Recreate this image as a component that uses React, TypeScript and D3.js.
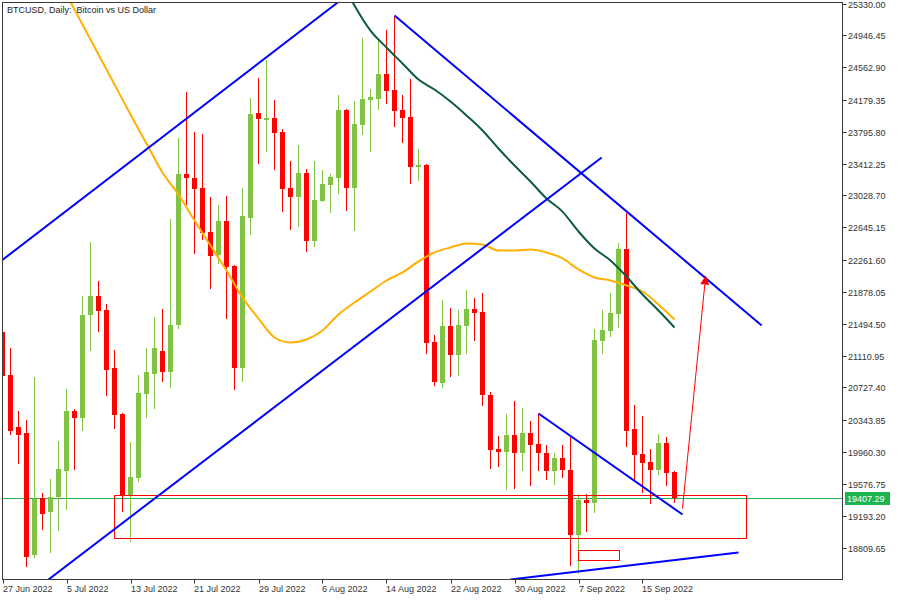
import React from "react";
import * as d3 from "d3";

const title = "BTCUSD, Daily:  Bitcoin vs US Dollar";

// daily candles, first bar = 27 Jun 2022
const opens = [21387, 20883, 20248, 20188, 18714, 19397, 19241, 19409, 19721, 20440, 20356, 21602, 21830, 21662, 20967, 20404, 19433, 19637, 20644, 20895, 21159, 20919, 21471, 23292, 23244, 23113, 22597, 22310, 22729, 22178, 20967, 22765, 24012, 23934, 23952, 23784, 23113, 23005, 23304, 22489, 22957, 23149, 23244, 24048, 23113, 23868, 24179, 24191, 24479, 24299, 24048, 23964, 23376, 23400, 21267, 20787, 21459, 21111, 21459, 21674, 21638, 20632, 19996, 19960, 20164, 19948, 20188, 20056, 19948, 19721, 19888, 19733, 18954, 19373, 19349, 21279, 21399, 21614, 22393, 20224, 19936, 19840, 19733, 20068, 19709];
const highs = [21411, 21195, 20440, 20332, 20859, 19457, 19625, 20092, 20715, 20464, 21830, 22477, 21998, 21734, 21171, 20416, 20080, 20883, 21195, 21578, 21674, 22753, 23712, 24275, 23784, 23760, 23005, 22909, 23017, 22190, 23113, 24203, 24443, 24647, 24179, 23820, 23448, 23628, 23352, 23448, 23340, 23292, 24228, 24060, 24167, 24911, 24311, 24875, 25018, 25186, 24228, 24431, 23592, 23412, 21351, 21782, 21686, 21662, 21902, 21806, 21866, 20668, 20152, 20404, 20560, 20476, 20320, 20404, 20044, 19948, 20044, 20140, 19445, 19445, 21423, 21662, 21866, 22465, 22813, 20512, 20380, 19996, 20176, 20140, 19721];
const lows = [20835, 20164, 19816, 18570, 18678, 19025, 18738, 19013, 19265, 19733, 20212, 21159, 21387, 20620, 20224, 19241, 18870, 19589, 20356, 20464, 20799, 20727, 21423, 22909, 22322, 22501, 21914, 22202, 21543, 20703, 20799, 22561, 23412, 23556, 23340, 22825, 22621, 22657, 22357, 22417, 22945, 22813, 23041, 22837, 22609, 23748, 23556, 24048, 24120, 23844, 23652, 23161, 23208, 21123, 20751, 20727, 20859, 20871, 21123, 21279, 20500, 19745, 19780, 19493, 19505, 19721, 19541, 19721, 19613, 19553, 19637, 18582, 18498, 18990, 19229, 21123, 21327, 21435, 20020, 19613, 19457, 19337, 19673, 19541, 19349];
const closes = [20871, 20212, 20164, 18690, 19385, 19217, 19409, 19745, 20440, 20356, 21602, 21830, 21650, 20943, 20392, 19433, 19649, 20656, 20919, 21195, 20919, 21471, 23292, 23244, 23101, 22585, 22298, 22729, 22166, 20967, 22777, 24000, 23940, 23952, 23772, 23101, 23005, 23304, 22489, 22969, 23161, 23256, 24048, 23113, 23880, 24191, 24215, 24479, 24287, 24036, 23952, 23376, 23400, 21255, 20799, 21459, 21111, 21471, 21674, 21626, 20632, 19984, 19960, 20164, 19948, 20188, 20044, 19948, 19721, 19888, 19733, 18954, 19373, 19349, 21291, 21411, 21626, 22393, 20212, 19924, 19828, 19733, 20068, 19697, 19407.29];

const lastPrice = 19407.29;

const priceTicks = [25330.0, 24946.45, 24562.9, 24179.35, 23795.8, 23412.25, 23028.7, 22645.15, 22261.6, 21878.05, 21494.5, 21110.95, 20727.4, 20343.85, 19960.3, 19576.75, 19193.2, 18809.65];
const dateTickBars = [0, 8, 16, 24, 32, 40, 48, 56, 64, 72, 80];
const dateTickLabels = ["27 Jun 2022", "5 Jul 2022", "13 Jul 2022", "21 Jul 2022", "29 Jul 2022", "6 Aug 2022", "14 Aug 2022", "22 Aug 2022", "30 Aug 2022", "7 Sep 2022", "15 Sep 2022"];

const slowMaBars = [8, 10, 12, 14, 16, 18, 20, 22, 24, 26, 28, 30, 32, 34, 36, 38, 40, 42, 44, 46, 48, 50, 52, 54, 56, 58, 60, 62, 64, 66, 68, 70, 72, 74, 76, 78, 80, 82, 84];
const slowMaValues = [25438, 25078, 24719, 24359, 23999, 23652, 23304, 23041, 22729, 22429, 22130, 21806, 21554, 21327, 21267, 21303, 21411, 21602, 21746, 21878, 22010, 22106, 22238, 22346, 22406, 22453, 22441, 22369, 22369, 22381, 22346, 22274, 22142, 22046, 22010, 21950, 21878, 21722, 21542];
const fastMaBars = [43, 44, 46, 48, 50, 52, 54, 56, 58, 60, 62, 64, 66, 68, 70, 72, 74, 76, 78, 80, 82, 84];
const fastMaValues = [25486, 25306, 25006, 24803, 24611, 24419, 24299, 24155, 23988, 23808, 23592, 23388, 23197, 22993, 22836, 22597, 22393, 22250, 22058, 21842, 21650, 21447];

// drawn objects: [bar1, price1, bar2, price2]
const trendLines = [
  [-0.1, 22250, 41.9, 25342],
  [5.75, 18426, 74.9, 23484],
  [49, 25186, 94.9, 21471],
  [67, 20416, 85, 19205],
  [63.5, 18426, 92, 18750],
];
const zones = [
  [13.9, 19433, 92.9, 18918],
  [71.9, 18774, 77, 18654],
];
const arrowLine = [85, 19277, 87.9, 22070];

const W = 900;
const H = 600;
const left = 2.5;
const top = 2.5;
const right = 842.5;
const bottom = 579.5;
const font = "'Liberation Sans', Arial, sans-serif";

export default function App() {
  const x = d3.scaleLinear().domain([0, 105]).range([2.5, 842.5]);
  const y = d3.scaleLinear().domain([18809.65, 25330]).range([547.5, 3.5]);

  const bull = "#80c342";
  const bear = "#ff0000";

  const slowLine = d3
    .line<number>()
    .x((_, i) => x(slowMaBars[i]))
    .y((d) => y(d))
    .curve(d3.curveMonotoneX)(slowMaValues);
  const fastLine = d3
    .line<number>()
    .x((_, i) => x(fastMaBars[i]))
    .y((d) => y(d))
    .curve(d3.curveMonotoneX)(fastMaValues);

  const ax1 = x(arrowLine[0]);
  const ay1 = y(arrowLine[1]);
  const ax2 = x(arrowLine[2]);
  const ay2 = y(arrowLine[3]);
  const ang = Math.atan2(ay2 - ay1, ax2 - ax1);
  const head = 9;
  const hw = 4.5;
  const bx = ax2 - head * Math.cos(ang);
  const by = ay2 - head * Math.sin(ang);
  const headPath = `M${ax2},${ay2}L${bx + hw * Math.sin(ang)},${by - hw * Math.cos(ang)}L${bx - hw * Math.sin(ang)},${by + hw * Math.cos(ang)}Z`;

  return (
    <svg
      width={W}
      height={H}
      style={{ position: "absolute", left: 0, top: 0, background: "#fff" }}
      fontFamily={font}
    >
      <defs>
        <clipPath id="plot">
          <rect x={left} y={top} width={right - left} height={bottom - top} />
        </clipPath>
      </defs>
      <rect width={W} height={H} fill="#fff" />

      <g clipPath="url(#plot)">
        <line
          x1={left}
          x2={right}
          y1={Math.round(y(lastPrice)) + 0.5}
          y2={Math.round(y(lastPrice)) + 0.5}
          stroke="#1db34e"
          strokeWidth={1}
        />
        <g shapeRendering="crispEdges">
          {opens.map((o, i) => {
            const c = closes[i];
            const up = c >= o;
            const col = up ? bull : bear;
            const cx = x(i);
            const yt = y(Math.max(o, c));
            const yb = y(Math.min(o, c));
            return (
              <g key={i}>
                <line x1={cx} x2={cx} y1={y(highs[i])} y2={y(lows[i])} stroke={col} strokeWidth={1} />
                <rect x={cx - 2.5} y={yt} width={5} height={Math.max(1.5, yb - yt)} fill={col} />
              </g>
            );
          })}
        </g>
        <path d={slowLine || ""} fill="none" stroke="#ffb000" strokeWidth={2} />
        <path d={fastLine || ""} fill="none" stroke="#0d5a47" strokeWidth={2} />
        {zones.map((z, i) => (
          <rect
            key={i}
            x={Math.round(x(z[0])) + 0.5}
            y={Math.round(y(z[1])) + 0.5}
            width={Math.round(x(z[2]) - x(z[0]))}
            height={Math.round(y(z[3]) - y(z[1]))}
            fill="none"
            stroke="#ff0000"
            strokeWidth={1}
          />
        ))}
        {trendLines.map((t, i) => (
          <line
            key={i}
            x1={x(t[0])}
            y1={y(t[1])}
            x2={x(t[2])}
            y2={y(t[3])}
            stroke="#0000ff"
            strokeWidth={2}
          />
        ))}
        <line x1={ax1} y1={ay1} x2={bx} y2={by} stroke="#ff0000" strokeWidth={1} />
        <path d={headPath} fill="#ff0000" />
      </g>

      <rect x={left} y={top} width={right - left} height={bottom - top} fill="none" stroke="#3a3a3a" strokeWidth={1} />

      <text x={7} y={13} fontSize={9} fill="#222" xmlSpace="preserve" style={{ whiteSpace: "pre" }}>
        {title}
      </text>

      {priceTicks.map((p) => {
        const ty = Math.round(y(p)) + 0.5;
        return (
          <g key={p}>
            <line x1={right} x2={right + 4} y1={ty} y2={ty} stroke="#3a3a3a" />
            <text x={right + 5.5} y={ty + 3.5} fontSize={9} fill="#333">
              {p.toFixed(2)}
            </text>
          </g>
        );
      })}

      <rect x={right + 2.5} y={Math.round(y(lastPrice)) - 6} width={45} height={13} fill="#1db34e" />
      <text x={right + 4.5} y={Math.round(y(lastPrice)) + 4} fontSize={9} fill="#fff">
        {lastPrice.toFixed(2)}
      </text>

      {dateTickBars.map((b, i) => {
        const tx = Math.round(x(b)) + 0.5;
        return (
          <g key={b}>
            <line x1={tx} x2={tx} y1={bottom} y2={bottom + 4} stroke="#3a3a3a" />
            <text x={tx - 0.5} y={592} fontSize={9} fill="#333">
              {dateTickLabels[i]}
            </text>
          </g>
        );
      })}
    </svg>
  );
}
